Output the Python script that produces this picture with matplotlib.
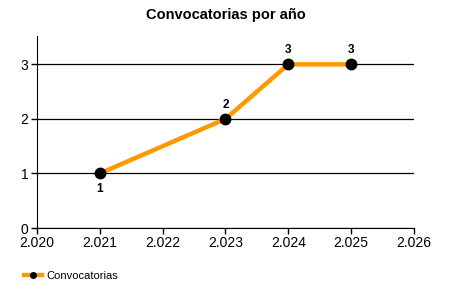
import matplotlib
matplotlib.use("Agg")
import matplotlib.pyplot as plt
from matplotlib.ticker import FuncFormatter, MultipleLocator
from matplotlib.lines import Line2D

years = [2021, 2023, 2024, 2025]
convocatorias = [1, 2, 3, 3]
label_pos = ["below", "above", "above", "above"]

plt.rcParams['font.family'] = ['Liberation Sans', 'DejaVu Sans']

fig = plt.figure(figsize=(4.5, 3), dpi=100)
ax = fig.add_axes([0.082, 0.24, 0.838, 0.64])

ax.plot(years, convocatorias, color="#FF9900", lw=3.2, zorder=3, solid_capstyle="butt")
ax.plot(years, convocatorias, "o", color="black", ms=7.5, zorder=4)

for x, y, pos in zip(years, convocatorias, label_pos):
    dy = -11.5 if pos == "below" else 10
    ax.annotate(str(y), (x, y), xytext=(0, dy), textcoords="offset points",
                ha="center", va="center", fontsize=8.5, fontweight="bold")

ax.set_xlim(2020, 2026)
ax.set_ylim(0, 3.52)
ax.xaxis.set_major_locator(MultipleLocator(1))
ax.yaxis.set_major_locator(MultipleLocator(1))
ax.xaxis.set_major_formatter(FuncFormatter(lambda v, p: f"{int(v):,}".replace(",", ".")))
ax.tick_params(labelsize=10, length=4, width=1, pad=2, color="black")
ax.grid(axis="y", color="black", lw=0.9)
ax.set_axisbelow(True)
for s in ["top", "right"]:
    ax.spines[s].set_visible(False)

ax.set_title("Convocatorias por año", fontsize=10.5, fontweight="bold", pad=12)

handle = Line2D([], [], color="#FF9900", lw=3.2, marker="o", mfc="black", mec="black", ms=4)
fig.legend([handle], ["Convocatorias"], loc="lower left", bbox_to_anchor=(0.03, 0.03),
           frameon=False, fontsize=8, handlelength=1.7, handletextpad=0.4)

fig.savefig("out.png", dpi=100)
